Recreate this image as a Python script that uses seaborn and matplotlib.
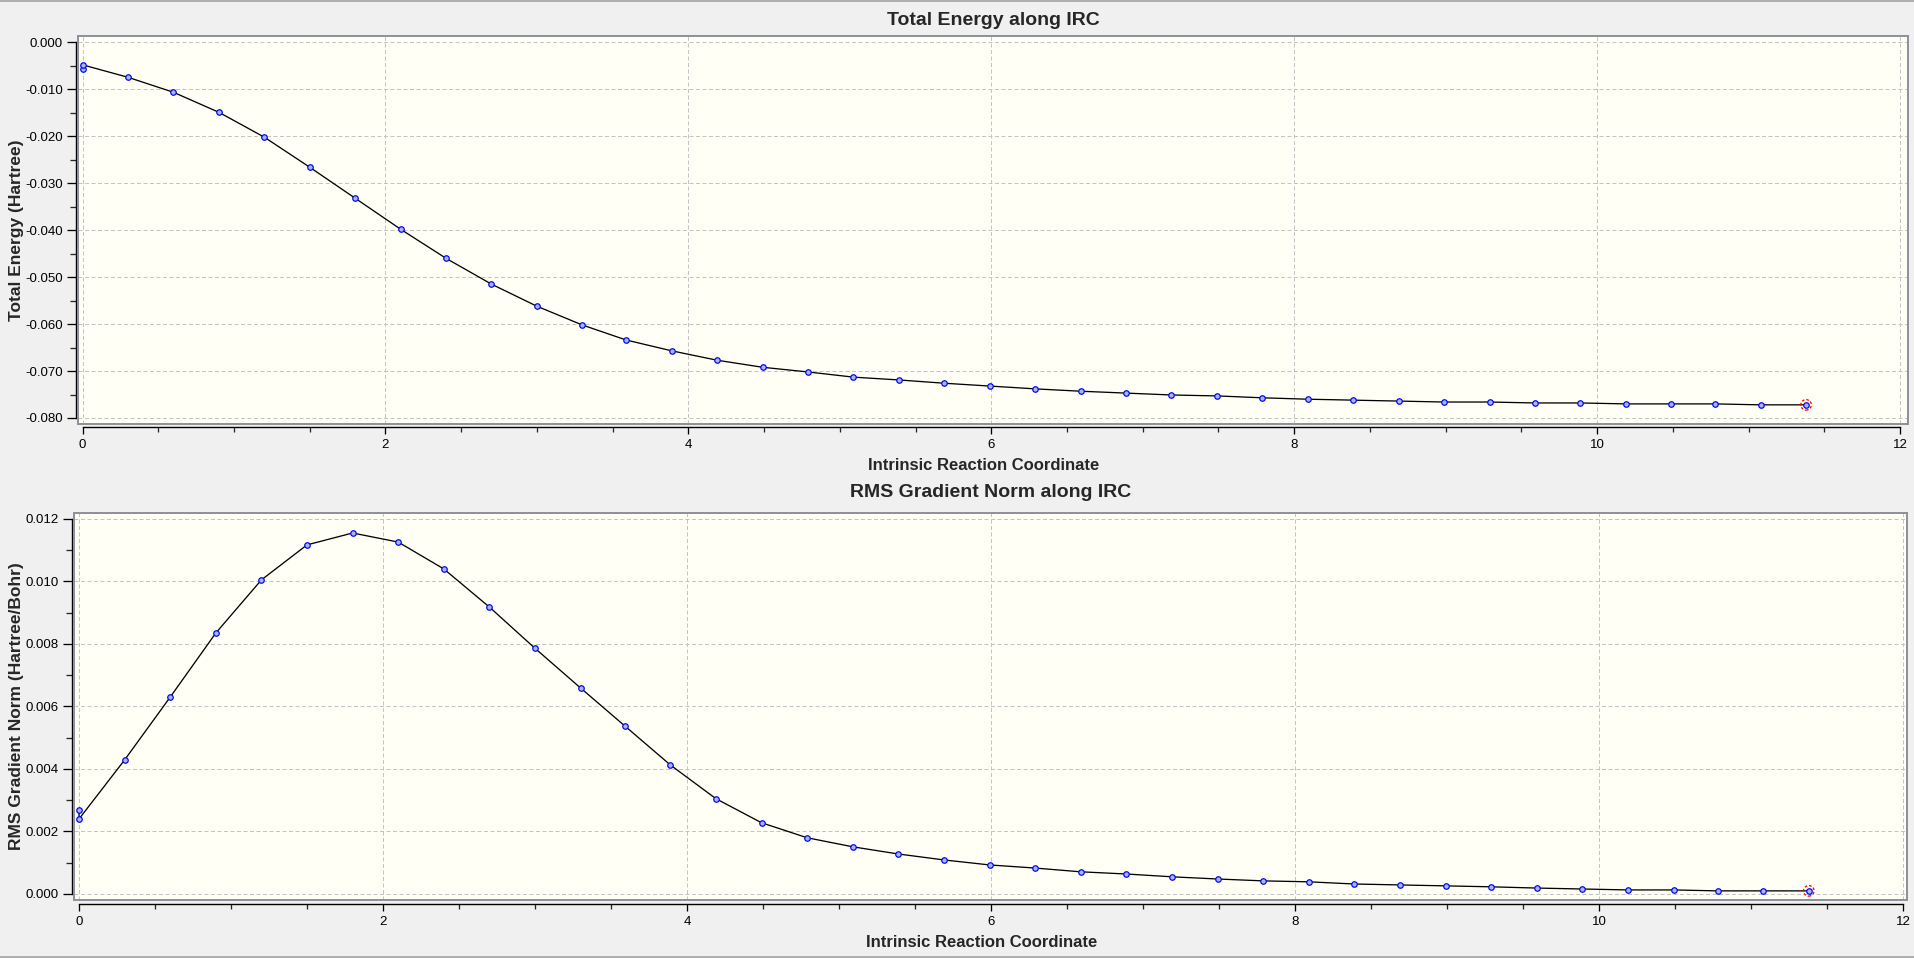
import matplotlib
matplotlib.use("Agg")
import matplotlib.pyplot as plt
from matplotlib.patches import Rectangle
from matplotlib.lines import Line2D
from matplotlib.ticker import MultipleLocator, FormatStrFormatter
import seaborn as sns
import pandas as pd

# ---------------- data ----------------
irc = [0.0, 0.0, 0.30, 0.60, 0.90, 1.20, 1.50, 1.80, 2.10, 2.40, 2.70, 3.00,
       3.30, 3.59, 3.89, 4.19, 4.49, 4.79, 5.09, 5.39, 5.69, 5.99, 6.29, 6.59,
       6.89, 7.19, 7.49, 7.79, 8.09, 8.39, 8.69, 8.99, 9.29, 9.59, 9.89, 10.19,
       10.49, 10.78, 11.08, 11.38]

energy = [-0.0056, -0.0048, -0.00745, -0.01064, -0.0149, -0.0202, -0.0266,
          -0.0332, -0.0398, -0.0460, -0.0515, -0.0562, -0.0602, -0.0634,
          -0.0657, -0.0677, -0.0692, -0.0702, -0.0713, -0.0719, -0.0726,
          -0.0732, -0.0738, -0.0743, -0.0747, -0.0751, -0.0753, -0.0757,
          -0.0760, -0.0762, -0.0764, -0.0766, -0.0766, -0.0768, -0.0768,
          -0.0770, -0.0770, -0.0770, -0.0772, -0.0772]

rms_grad = [0.00269, 0.00240, 0.00429, 0.00630, 0.00835, 0.01005, 0.01117,
            0.01155, 0.01126, 0.01040, 0.00918, 0.00786, 0.00659, 0.00538,
            0.00413, 0.00305, 0.00228, 0.00180, 0.00151, 0.00128, 0.00109,
            0.00093, 0.00083, 0.00071, 0.00064, 0.00055, 0.00048, 0.00042,
            0.00039, 0.00032, 0.00029, 0.00026, 0.00023, 0.00019, 0.00016,
            0.00013, 0.00013, 0.00010, 0.00010, 0.00010]

titles = ["Total Energy along IRC", "RMS Gradient Norm along IRC"]
ylabels = ["Total Energy (Hartree)", "RMS Gradient Norm (Hartree/Bohr)"]
xlabel = "Intrinsic Reaction Coordinate"

# ---------------- style ----------------
sns.set_style("ticks")
plt.rcParams["font.family"] = ["Liberation Sans", "DejaVu Sans"]
plt.rcParams["axes.unicode_minus"] = False

W, H, DPI = 1915, 958, 100
PX = 72.0 / DPI  # one pixel in points

BG = "#f0f0f0"
PLOT_BG = "#fffff6"
FRAME = "#8e939b"
GRID = "#c4c4c4"

fig = plt.figure(figsize=(W / DPI, H / DPI), dpi=DPI, facecolor=BG)

df = pd.DataFrame({"irc": irc, "energy": energy, "grad": rms_grad})


def axes_rect(left, right, top, bottom):
    return [left / W, 1 - bottom / H, (right - left) / W, (bottom - top) / H]


panels = [
    dict(rect=axes_rect(78, 1908, 36, 424), col="energy",
         xlim=(-0.030, 12.053), ylim=(-0.08128, 0.00134),
         ymaj=0.01, ymin=0.005, ybounds=(-0.080, 0.0),
         yoff=2, xoff=3, tpad=8, xlab_y=-0.118),
    dict(rect=axes_rect(74, 1907, 513, 900), col="grad",
         xlim=(-0.033, 12.026), ylim=(-0.000192, 0.01219),
         ymaj=0.002, ymin=0.001, ybounds=(0.0, 0.012),
         yoff=2, xoff=4, tpad=11.5, xlab_y=-0.122),
]

for i, p in enumerate(panels):
    ax = fig.add_axes(p["rect"])
    ax.set_facecolor(PLOT_BG)

    sns.lineplot(data=df, x="irc", y=p["col"], ax=ax, sort=False,
                 estimator=None, color="black", linewidth=1.3 * PX,
                 zorder=3)
    sns.scatterplot(data=df, x="irc", y=p["col"], ax=ax, s=(5.5 * PX) ** 2,
                    color="#a8b8e0", edgecolor="#0000ff", linewidth=1.2 * PX,
                    zorder=4)
    # highlighted final point
    ax.scatter([df["irc"].iloc[-1]], [df[p["col"]].iloc[-1]],
               s=(10.5 * PX) ** 2, facecolors="none", edgecolors="red",
               linewidths=1.3 * PX, linestyle=(0, (2, 1.5)), zorder=5)

    ax.set_xlim(*p["xlim"])
    ax.set_ylim(*p["ylim"])

    ax.xaxis.set_major_locator(MultipleLocator(2))
    ax.xaxis.set_minor_locator(MultipleLocator(0.5))
    ax.xaxis.set_major_formatter(FormatStrFormatter("%d"))
    ax.yaxis.set_major_locator(MultipleLocator(p["ymaj"]))
    ax.yaxis.set_minor_locator(MultipleLocator(p["ymin"]))
    ax.yaxis.set_major_formatter(FormatStrFormatter("%.3f"))

    ax.grid(True, which="major", color=GRID, linewidth=1.0 * PX,
            linestyle=(0, (4, 2.5)), zorder=1)
    ax.set_axisbelow(True)

    for s in ["top", "right"]:
        ax.spines[s].set_visible(False)
    ax.spines["left"].set_position(("outward", p["yoff"] * PX))
    ax.spines["bottom"].set_position(("outward", p["xoff"] * PX))
    ax.spines["left"].set_bounds(*p["ybounds"])
    ax.spines["bottom"].set_bounds(0, 12)
    for s in ["left", "bottom"]:
        ax.spines[s].set_color("black")
        ax.spines[s].set_linewidth(1.4 * PX)

    ax.tick_params(axis="y", which="major", length=9 * PX, width=1.3 * PX,
                   pad=3, labelsize=9.5, colors="black")
    ax.tick_params(axis="y", which="minor", length=6 * PX, width=1.3 * PX)
    ax.tick_params(axis="x", which="major", length=7 * PX, width=1.3 * PX,
                   pad=3.5, labelsize=9.5, colors="black")
    ax.tick_params(axis="x", which="minor", length=4.5 * PX, width=1.3 * PX)

    # frame around the plotting area
    ax.add_patch(Rectangle((0, 0), 1, 1, transform=ax.transAxes, fill=False,
                           edgecolor=FRAME, linewidth=2.0 * PX, clip_on=False,
                           zorder=6))

    ax.set_title(titles[i], fontsize=14, fontweight="bold", pad=p["tpad"])
    ax.set_xlabel(xlabel, fontsize=12, fontweight="bold", va="baseline")
    ax.xaxis.set_label_coords(0.495, p["xlab_y"])
    ax.set_ylabel(ylabels[i], fontsize=12.5, fontweight="bold", va="center")
    left_px = p["rect"][0] * W
    width_px = p["rect"][2] * W
    ax.yaxis.set_label_coords((17 - left_px) / width_px, 0.5)

# window border lines at top and bottom of the image
fig.add_artist(Line2D([0, 1], [1 - 0.5 / H, 1 - 0.5 / H], transform=fig.transFigure,
                      color="#9a9a9a", linewidth=1.5 * PX))
fig.add_artist(Line2D([0, 1], [1.0 / H, 1.0 / H], transform=fig.transFigure,
                      color="#9a9a9a", linewidth=1.5 * PX))

fig.savefig("out.png", dpi=DPI, facecolor=BG)
